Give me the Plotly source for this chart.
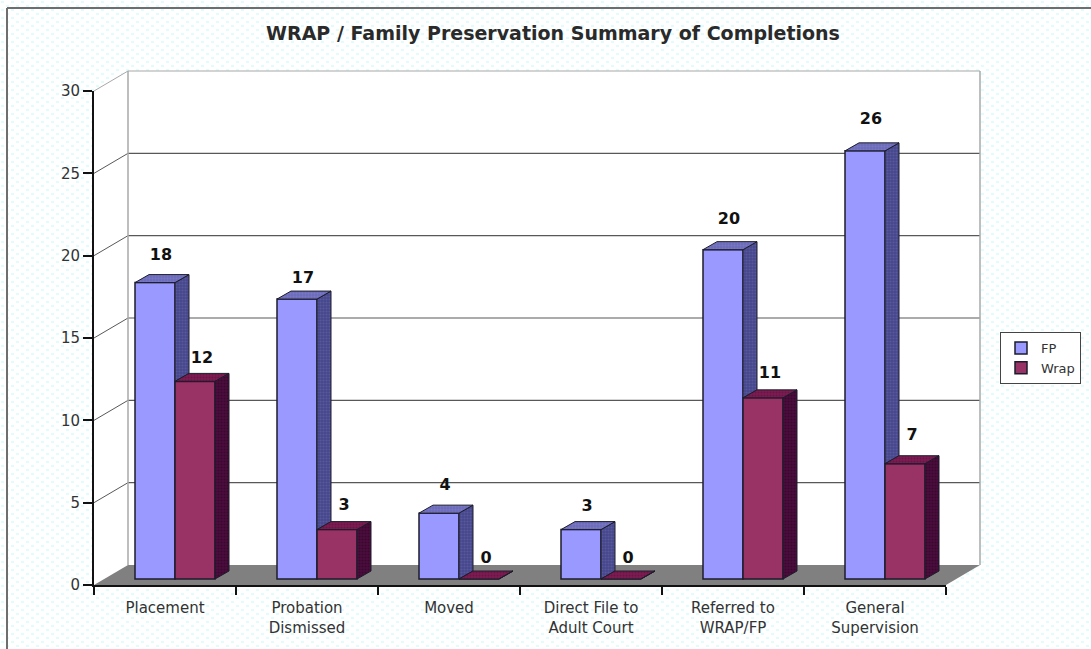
import base64
import plotly.graph_objects as go

categories = ["Placement", "Probation<br>Dismissed", "Moved", "Direct File to<br>Adult Court",
              "Referred to<br>WRAP/FP", "General<br>Supervision"]
fp_values = [18, 17, 4, 3, 20, 26]
wrap_values = [12, 3, 0, 0, 11, 7]
y_ticks = [0, 5, 10, 15, 20, 25, 30]
title_text = "WRAP / Family Preservation Summary of Completions"

# Geometry (pixels in the 1091x649 page)
X0, XEND, Y0, YTOP = 94, 946, 585, 91
CAT_PX = (XEND - X0) / 6
VAL_PX = (Y0 - YTOP) / 30
WALL_DX, WALL_DY = 34, 20
BAR_DX, BAR_DY = 41, 6
BAR_W = 40
DEPTH_DX, DEPTH_DY = 14, 8
dx = lambda p: p / CAT_PX
dv = lambda p: p / VAL_PX
px = lambda p: (p - X0) / (XEND - X0)
py = lambda p: (Y0 - p) / (Y0 - YTOP)

FP_FRONT, FP_TOP, FP_SIDE = "#9999ff", "#6c6cba", "#46468c"
W_FRONT, W_TOP, W_SIDE = "#993366", "#7c1c52", "#4c0c3e"
EDGE = "#1c1c2c"

svg = ("<svg xmlns='http://www.w3.org/2000/svg' width='1091' height='649'><defs>"
       "<pattern id='p' width='10' height='8' patternUnits='userSpaceOnUse'>"
       "<rect width='10' height='8' fill='white'/>"
       "<rect x='1' y='1' width='3' height='2' fill='#e0fcfc'/>"
       "<rect x='6' y='5' width='3' height='2' fill='#e0fcfc'/>"
       "</pattern></defs><rect width='1091' height='649' fill='url(#p)'/></svg>")
bg_uri = "data:image/svg+xml;base64," + base64.b64encode(svg.encode()).decode()

fig = go.Figure()

fp_x = [i - 0.5 + dx(BAR_DX) + dx(BAR_W) / 2 for i in range(6)]
wrap_x = [x + dx(BAR_W) for x in fp_x]
base = dv(BAR_DY)
hw = dx(BAR_W) / 2

fig.add_bar(name="FP", x=fp_x, y=fp_values, base=base, width=dx(BAR_W),
            marker=dict(color=FP_FRONT, line=dict(color=EDGE, width=1.5)),
            cliponaxis=False, hoverinfo="skip")
fig.add_bar(name="Wrap", x=wrap_x, y=wrap_values, base=base, width=dx(BAR_W),
            marker=dict(color=W_FRONT, line=dict(color=EDGE, width=1.5)),
            cliponaxis=False, hoverinfo="skip")


def faces_top(xs, vals):
    X, Y = [], []
    for x, v in zip(xs, vals):
        t = v + base
        X += [x - hw, x + hw, x + hw + dx(DEPTH_DX), x - hw + dx(DEPTH_DX), x - hw, None]
        Y += [t, t, t + dv(DEPTH_DY), t + dv(DEPTH_DY), t, None]
    return X, Y


def faces_side(xs, vals, lows):
    X, Y = [], []
    for x, v, low in zip(xs, vals, lows):
        t = v + base
        b = low + base
        X += [x + hw, x + hw + dx(DEPTH_DX), x + hw + dx(DEPTH_DX), x + hw, x + hw, None]
        Y += [b, b + dv(DEPTH_DY), t + dv(DEPTH_DY), t, b, None]
    return X, Y


def face(X, Y, bg, fg):
    fig.add_scatter(x=X, y=Y, mode="lines", fill="toself", fillcolor=bg,
                    fillpattern=dict(shape=".", bgcolor=bg, fgcolor=fg, size=3, solidity=0.4),
                    line=dict(color=EDGE, width=1), showlegend=False,
                    cliponaxis=False, hoverinfo="skip")


face(*faces_side(fp_x, fp_values, wrap_values), FP_SIDE, "#6a6aa8")
face(*faces_top(fp_x, fp_values), FP_TOP, "#8484d0")
face(*faces_top(wrap_x, wrap_values), W_TOP, "#5c0c3c")
face(*faces_side(wrap_x, wrap_values, [0] * 6), W_SIDE, "#22061c")

# value labels sit above each bar, clear of its depth face
fp_lift = [27, 20, 27, 23, 30, 31]
wrap_lift = [22, 24, 20, 20, 24, 28]
fig.add_scatter(x=[x + dx(6) for x in fp_x] + [x + dx(7) for x in wrap_x],
                y=[v + base + dv(l) for v, l in zip(fp_values, fp_lift)] +
                  [v + base + dv(l) for v, l in zip(wrap_values, wrap_lift)],
                mode="text", text=[str(v) for v in fp_values + wrap_values],
                textposition="middle center",
                textfont=dict(family="DejaVu Sans", size=16, color="#111111", weight="bold"),
                showlegend=False, cliponaxis=False, hoverinfo="skip")

# Chart box: walls, floor and gridlines live behind the bars
shapes = []
def poly(pts, fill, line=None, w=1):
    path = "M" + "L".join(f"{px(a):.5f},{py(b):.5f}" for a, b in pts) + "Z"
    shapes.append(dict(type="path", xref="paper", yref="paper", path=path, layer="below",
                       fillcolor=fill, line=dict(color=line or fill, width=w if line else 0)))
def seg(x1, y1, x2, y2, color, w=1):
    shapes.append(dict(type="line", xref="paper", yref="paper", layer="below",
                       x0=px(x1), y0=py(y1), x1=px(x2), y1=py(y2),
                       line=dict(color=color, width=w)))

back_l, back_r = X0 + WALL_DX, XEND + WALL_DX
poly([(X0, Y0), (back_l, Y0 - WALL_DY), (back_r, Y0 - WALL_DY), (back_r, YTOP - WALL_DY),
      (back_l, YTOP - WALL_DY), (X0, YTOP)], "white")
for v in y_ticks[1:]:
    yf = Y0 - v * VAL_PX
    grid = "#a8a8a8" if v == 30 else "#585858"
    seg(X0, yf, back_l, yf - WALL_DY, grid)
    seg(back_l, yf - WALL_DY, back_r, yf - WALL_DY, grid, 1.2)
seg(back_l, Y0 - WALL_DY, back_l, YTOP - WALL_DY, "#a8a8a8", 1.5)
seg(back_r, Y0 - WALL_DY, back_r, YTOP - WALL_DY, "#a8a8a8", 1.5)
poly([(X0, Y0), (XEND, Y0), (back_r, Y0 - WALL_DY), (back_l, Y0 - WALL_DY)], "#808080")
# outer frame of the picture
seg(7, 649, 7, 8, "#6e6e6e", 2)
seg(7, 8, 1091, 8, "#6e6e6e", 2)

fig.update_layout(
    width=1091, height=649, autosize=False,
    margin=dict(l=X0, r=1091 - XEND, t=YTOP, b=649 - Y0, pad=0, autoexpand=False),
    paper_bgcolor="white", plot_bgcolor="rgba(0,0,0,0)",
    font=dict(family="DejaVu Sans", color="#333333"),
    barmode="overlay", shapes=shapes,
    images=[dict(source=bg_uri, xref="paper", yref="paper", x=px(0), y=py(0),
                 sizex=1091 / (XEND - X0), sizey=649 / (Y0 - YTOP),
                 sizing="stretch", xanchor="left", yanchor="top", layer="below")],
    title=dict(text=title_text, x=553 / 1091, xanchor="center", y=1 - 33 / 649, yanchor="middle",
               font=dict(family="DejaVu Sans", size=19, color="#2a2a2a", weight="bold")),
    legend=dict(x=px(1000), xanchor="left", y=py(332), yanchor="top",
                bgcolor="white", bordercolor="#444444", borderwidth=1,
                font=dict(family="DejaVu Sans", size=13, color="#333333"),
                itemclick=False, itemdoubleclick=False),
    xaxis=dict(range=[-0.5, 5.5], tickmode="array", tickvals=list(range(6)), ticktext=categories,
               ticks="", showgrid=False, zeroline=False, showline=True, linecolor="#111111",
               linewidth=2, tickfont=dict(size=15, color="#333333"), ticklabelstandoff=8,
               minor=dict(tickmode="array", tickvals=[i - 0.5 for i in range(7)], ticks="outside",
                          ticklen=8, tickwidth=1.5, tickcolor="#111111", showgrid=False)),
    yaxis=dict(range=[0, 30], tickmode="array", tickvals=y_ticks, ticks="outside", ticklen=9,
               tickwidth=1.5, tickcolor="#111111", showgrid=False, zeroline=False, showline=True,
               linecolor="#111111", linewidth=2, tickfont=dict(size=15, color="#333333")),
)

fig.write_html("out.html", config=dict(displayModeBar=False),
               post_script="document.body.style.margin='0';")
